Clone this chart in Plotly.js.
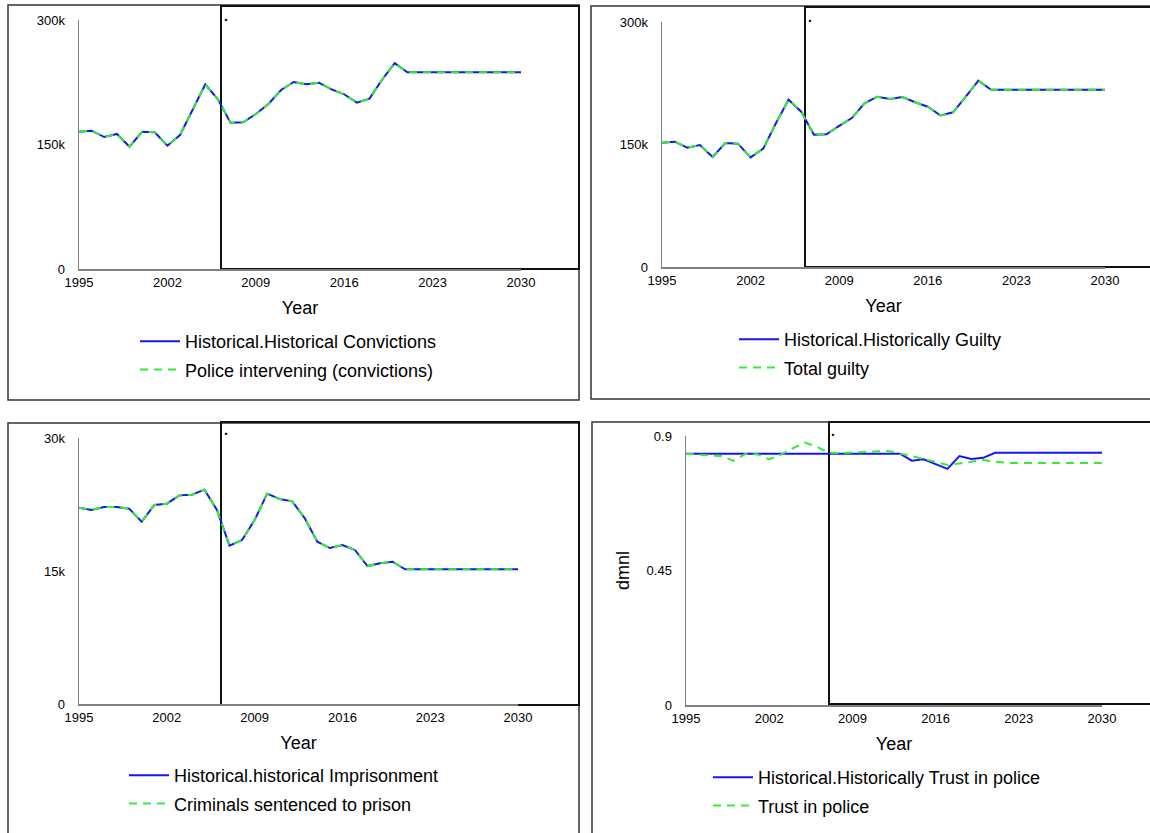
<!DOCTYPE html>
<html>
<head>
<meta charset="utf-8">
<script src="https://cdn.plot.ly/plotly-3.0.1.min.js"></script>
<style>html,body{margin:0;padding:0;background:#fff;}#chart{width:1150px;height:833px;}</style>
</head>
<body>
<div id="chart"></div>
<script>
// ---------- DATA ----------
const years = [1995,1996,1997,1998,1999,2000,2001,2002,2003,2004,2005,2006,2007,2008,2009,2010,2011,2012,
  2013,2014,2015,2016,2017,2018,2019,2020,2021,2022,2023,2024,2025,2026,2027,2028,2029,2030];
const xTickVals = [1995,2002,2009,2016,2023,2030];

const historicalConvictions = [165400,166600,159000,162700,147300,165400,164700,148600,161400,191600,222500,204500,
  176300,176700,186700,198800,215700,225300,222500,224500,216500,210500,200400,205300,228000,247900,237000,
  237000,237000,237000,237000,237000,237000,237000,237000,237000];
const policeIntervening = [165400,166600,159000,162700,147300,165400,164700,148600,161400,191600,222500,204500,
  176300,176700,186700,198800,215700,225300,222500,224500,216500,210500,200400,205300,228000,247900,237000,
  237000,237000,237000,237000,237000,237000,237000,237000,237000];

const historicallyGuilty = [152200,153400,146100,149400,134700,151800,151000,134300,144900,176000,204900,190200,
  162000,162500,172700,182400,200400,208500,205700,208200,201700,196300,185500,189400,208500,228100,217100,
  217100,217100,217100,217100,217100,217100,217100,217100,217100];
const totalGuilty = [152200,153400,146100,149400,134700,151800,151000,134300,144900,176000,204900,190200,
  162000,162500,172700,182400,200400,208500,205700,208200,201700,196300,185500,189400,208500,228100,217100,
  217100,217100,217100,217100,217100,217100,217100,217100,217100];

const historicalImprisonment = [22140,21880,22220,22220,22030,20560,22440,22590,23530,23610,24170,21880,
  17860,18500,20750,23720,23120,22860,20940,18310,17590,17930,17370,15560,15870,16050,15190,
  15190,15190,15190,15190,15190,15190,15190,15190,15190];
const sentencedToPrison = [22140,21880,22220,22220,22030,20560,22440,22590,23530,23610,24170,21880,
  17860,18500,20750,23720,23120,22860,20940,18310,17590,17930,17370,15560,15870,16050,15190,
  15190,15190,15190,15190,15190,15190,15190,15190,15190];

const historicalTrust = [0.841,0.841,0.841,0.841,0.841,0.841,0.841,0.841,0.841,0.841,0.841,0.841,0.841,0.841,
  0.841,0.841,0.841,0.841,0.841,0.8175,0.822,0.806,0.790,0.833,0.823,0.827,0.844,
  0.844,0.844,0.844,0.844,0.844,0.844,0.844,0.844,0.844];
const trustInPolice = [0.841,0.837,0.835,0.833,0.817,0.840,0.839,0.822,0.838,0.859,0.878,0.864,0.844,0.843,
  0.844,0.846,0.848,0.850,0.842,0.833,0.823,0.814,0.803,0.808,0.814,0.820,0.814,
  0.810,0.810,0.810,0.810,0.810,0.810,0.810,0.810,0.810];

const panels = [
  {hist: historicalConvictions, sim: policeIntervening,
   histName: 'Historical.Historical Convictions', simName: 'Police intervening (convictions)',
   yMax: 300000, yTickVals: [0,150000,300000], yTickText: ['0','150k','300k'], yTitle: ''},
  {hist: historicallyGuilty, sim: totalGuilty,
   histName: 'Historical.Historically Guilty', simName: 'Total guilty',
   yMax: 300000, yTickVals: [0,150000,300000], yTickText: ['0','150k','300k'], yTitle: ''},
  {hist: historicalImprisonment, sim: sentencedToPrison,
   histName: 'Historical.historical Imprisonment', simName: 'Criminals sentenced to prison',
   yMax: 30000, yTickVals: [0,15000,30000], yTickText: ['0','15k','30k'], yTitle: ''},
  {hist: historicalTrust, sim: trustInPolice,
   histName: 'Historical.Historically Trust in police', simName: 'Trust in police',
   yMax: 0.9, yTickVals: [0,0.45,0.9], yTickText: ['0','0.45','0.9'], yTitle: 'dmnl'}
];

// ---------- LAYOUT (pixel helpers) ----------
const W = 1150, H = 833;
const px = v => v / W;
const py = v => 1 - v / H;
const FONT = 'Liberation Sans, Arial, sans-serif';

// plot areas in pixels: [left, right, top, bottom]
const areas = [
  [79, 521, 20, 269],
  [662, 1105, 22, 267],
  [79, 518, 438, 704],
  [686, 1102, 436, 705]
];
// legend positions [left, top]
const legendPos = [[135, 323], [734, 321], [124, 757], [708, 759]];

const data = [];
const layout = {
  width: W, height: H,
  margin: {l: 0, r: 0, t: 0, b: 0},
  paper_bgcolor: '#ffffff',
  plot_bgcolor: 'rgba(0,0,0,0)',
  font: {family: FONT, color: '#000'},
  showlegend: true,
  shapes: [],
  annotations: []
};

panels.forEach((p, i) => {
  const n = i + 1;
  const xa = n === 1 ? 'x' : 'x' + n;
  const ya = n === 1 ? 'y' : 'y' + n;
  const lg = n === 1 ? 'legend' : 'legend' + n;
  const a = areas[i];
  data.push({
    x: years, y: p.hist, type: 'scatter', mode: 'lines', name: p.histName,
    xaxis: xa, yaxis: ya, legend: lg, legendgroup: 'h' + n,
    line: {color: '#1515f5', width: 2}
  });
  data.push({
    x: years, y: p.sim, type: 'scatter', mode: 'lines', name: p.simName,
    xaxis: xa, yaxis: ya, legend: lg, legendgroup: 's' + n,
    line: {color: '#33ee33', width: 2, dash: '8px,6px'}
  });
  layout['xaxis' + (n === 1 ? '' : n)] = {
    domain: [px(a[0]), px(a[1])], anchor: ya,
    range: [1995, 2030], tickvals: xTickVals, ticktext: xTickVals.map(String),
    showgrid: false, zeroline: false, showline: true, linecolor: '#808080', linewidth: 1.5,
    ticks: '', ticklabelstandoff: 1, tickfont: {size: 13, family: FONT, color: '#000'},
    title: {text: 'Year', font: {size: 18, family: FONT, color: '#000'}, standoff: 12},
    fixedrange: true
  };
  layout['yaxis' + (n === 1 ? '' : n)] = {
    domain: [py(a[3]), py(a[2])], anchor: xa,
    range: [0, p.yMax], tickvals: p.yTickVals, ticktext: p.yTickText,
    showgrid: false, zeroline: false, showline: true, linecolor: '#808080', linewidth: 1.5,
    ticks: '', ticklabelstandoff: 10, tickfont: {size: 13, family: FONT, color: '#000'},
    title: {text: p.yTitle, font: {size: 18, family: FONT, color: '#000'}, standoff: 12},
    fixedrange: true
  };
  layout[lg] = {
    x: px(legendPos[i][0]), y: py(legendPos[i][1]), xanchor: 'left', yanchor: 'top',
    orientation: 'v', font: {size: 18, family: FONT, color: '#000'},
    bgcolor: 'rgba(0,0,0,0)', borderwidth: 0, itemwidth: 40, tracegroupgap: 2,
    itemclick: false, itemdoubleclick: false
  };
});

// outer panel frames
const frames = [[8, 5, 579, 400], [591, 6, 1155, 399], [8, 423, 579, 840], [592, 422, 1155, 840]];
frames.forEach(f => layout.shapes.push({
  type: 'rect', xref: 'paper', yref: 'paper', layer: 'below',
  x0: px(f[0]), x1: px(f[2]), y0: py(f[3]), y1: py(f[1]),
  line: {color: '#333', width: 1.5}, fillcolor: 'rgba(0,0,0,0)'
}));
// inner rectangles
const rects = [[221, 6, 579, 269], [805, 7, 1155, 267], [221, 422, 579, 705], [829, 422, 1155, 704]];
rects.forEach(f => layout.shapes.push({
  type: 'rect', xref: 'paper', yref: 'paper', layer: 'below',
  x0: px(f[0]), x1: px(f[2]), y0: py(f[3]), y1: py(f[1]),
  line: {color: '#111', width: 2}, fillcolor: 'rgba(0,0,0,0)'
}));
// small dots
const dots = [[226, 26], [810, 27], [226, 440], [833, 441]];
dots.forEach(d => layout.annotations.push({
  xref: 'paper', yref: 'paper', x: px(d[0]), y: py(d[1]), xanchor: 'center', yanchor: 'bottom',
  text: '<b>.</b>', showarrow: false, font: {size: 14, family: FONT, color: '#000'}
}));

Plotly.newPlot('chart', data, layout, {displayModeBar: false, staticPlot: true});
</script>
</body>
</html>
